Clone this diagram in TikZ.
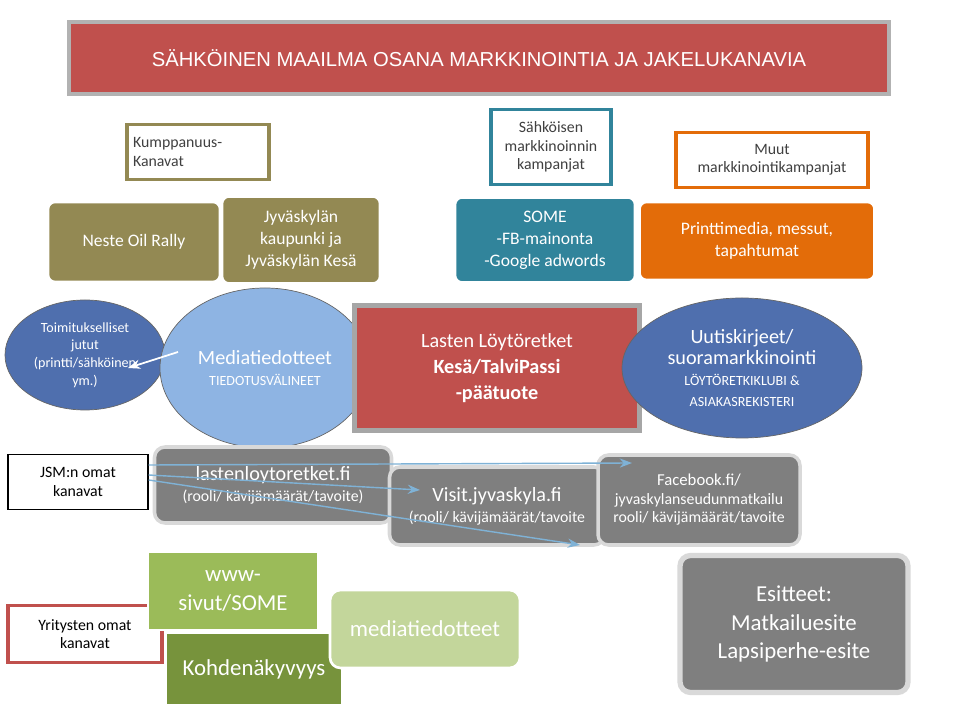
\documentclass[tikz,border=0pt]{standalone}
\usepackage{fontspec}
\setmainfont{Carlito}
\newfontfamily\arialf{Liberation Sans}
\usetikzlibrary{shapes.geometric,arrows.meta}
\definecolor{banred}{HTML}{C0504D}
\definecolor{olivec}{HTML}{938953}
\definecolor{tealc}{HTML}{31849B}
\definecolor{orangec}{HTML}{E36C09}
\definecolor{darkblue}{HTML}{4F6FAE}
\definecolor{lightblue}{HTML}{8EB4E3}
\definecolor{grayc}{HTML}{7F7F7F}
\definecolor{greenc}{HTML}{9BBB59}
\definecolor{dgreen}{HTML}{77933C}
\definecolor{lgreen}{HTML}{C3D69B}
\definecolor{arrowc}{HTML}{7FB2D6}
\tikzset{
  headbox/.style={draw=#1, line width=2pt, fill=white, text=black!75, align=center, font=\fontsize{9}{10.5}\selectfont},
  fillbox/.style={fill=#1, rounded corners=4pt, draw=white, line width=1.5pt, text=white, align=center, font=\fontsize{10}{12.5}\selectfont},
  graybox/.style={fill=grayc, rounded corners=6pt, draw=black!15, line width=2pt, text=white, align=center},
  blob/.style={ellipse, draw=black!60, fill=#1, text=white, align=center},
  chan/.style={-{Stealth[length=7pt]}, arrowc, line width=0.8pt}
}
\begin{document}
\begin{tikzpicture}[x=0.02cm, y=-0.02cm]
\useasboundingbox (0,0) rectangle (960,715);
% title
\node[fill=banred, draw=black!30, line width=2pt, text=white, minimum width=820*0.02cm, minimum height=72*0.02cm, font=\arialf\fontsize{11.5}{14}\selectfont] (title) at (479,58) {SÄHKÖINEN MAAILMA OSANA MARKKINOINTIA JA JAKELUKANAVIA};
% campaign heads
\node[headbox=olivec, minimum width=138*0.02cm, minimum height=55*0.02cm, align=left] (kump) at (198,152) {Kumppanuus-\\Kanavat\hspace*{5em}};
\node[headbox=tealc, minimum width=120*0.02cm, minimum height=75*0.02cm] (sahk) at (551,147) {Sähköisen\\markkinoinnin\\kampanjat};
\node[headbox=orangec, minimum width=192*0.02cm, minimum height=55*0.02cm] (muut) at (772,160) {Muut\\markkinointikampanjat};
% campaign rows
\node[fillbox=olivec, minimum width=172*0.02cm, minimum height=80*0.02cm] (neste) at (134,242) {Neste Oil Rally};
\node[fillbox=olivec, minimum width=158*0.02cm, minimum height=87*0.02cm] (jkl) at (301,240) {Jyväskylän\\kaupunki ja\\Jyväskylän Kesä};
\node[fillbox=tealc, minimum width=180*0.02cm, minimum height=85*0.02cm] (some) at (545,240) {SOME\\-FB-mainonta\\-Google adwords};
\node[fillbox=orangec, minimum width=235*0.02cm, minimum height=78*0.02cm] (print) at (757,241) {Printtimedia, messut,\\tapahtumat};
% middle row
\node[blob=darkblue, minimum width=160*0.02cm, minimum height=110*0.02cm, inner sep=0pt, font=\fontsize{8}{10}\selectfont] (toim) at (85,355) {Toimitukselliset\\jutut\\(printti/sähköinen\\ym.)};
\node[blob=lightblue, minimum width=210*0.02cm, minimum height=160*0.02cm] (media) at (265,368) {{\fontsize{11.5}{14}\selectfont Mediatiedotteet}\\{\fontsize{8}{9.5}\selectfont TIEDOTUSVÄLINEET}};
\node[fill=banred, draw=black!35, line width=3pt, text=white, align=center, minimum width=285*0.02cm, minimum height=125*0.02cm, font=\fontsize{11.5}{15}\selectfont] (lasten) at (497,368) {Lasten Löytöretket\\\textbf{Kesä/TalviPassi}\\\textbf{-päätuote}};
\node[blob=darkblue, minimum width=240*0.02cm, minimum height=140*0.02cm, inner sep=0pt] (uutis) at (742,368) {{\fontsize{11.5}{13.5}\selectfont Uutiskirjeet/}\\{\fontsize{11.5}{13.5}\selectfont suoramarkkinointi}\\{\fontsize{8}{10}\selectfont LÖYTÖRETKIKLUBI \&}\\{\fontsize{8}{10}\selectfont ASIAKASREKISTERI}};
\coordinate (mediaout) at (178,352);
\coordinate (toimin) at (128,368);
\draw[-{Stealth[length=7pt]}, white, line width=1pt] (mediaout) -- (toimin);
% own channels
\node[draw=black, line width=0.8pt, fill=white, align=center, minimum width=140*0.02cm, minimum height=55*0.02cm, font=\fontsize{9}{10.5}\selectfont] (jsm) at (78,482) {JSM:n omat\\kanavat};
\node[graybox, minimum width=237*0.02cm, minimum height=76*0.02cm] (lasfi) at (273,485) {{\fontsize{11.5}{13.5}\selectfont lastenloytoretket.fi}\\{\fontsize{9}{10.5}\selectfont (rooli/ kävijämäärät/tavoite)}};
\node[graybox, minimum width=215*0.02cm, minimum height=78*0.02cm] (visit) at (497,506) {{\fontsize{11.5}{13.5}\selectfont Visit.jyvaskyla.fi}\\{\fontsize{9}{10.5}\selectfont (rooli/ kävijämäärät/tavoite}};
\node[graybox, minimum width=202*0.02cm, minimum height=90*0.02cm, font=\fontsize{9}{10.5}\selectfont] (fb) at (699,500) {{\fontsize{9.5}{11.5}\selectfont Facebook.fi/}\\jyvaskylanseudunmatkailu\\rooli/ kävijämäärät/tavoite};
\coordinate (fbend) at (632,463);
\coordinate (visend) at (420,490);
\coordinate (siteend) at (580,545);
\draw[chan] (jsm.east) ++(0,-17) -- (fbend);
\draw[chan] (jsm.east) ++(0,-7) -- (visend);
\draw[chan] (jsm.east) ++(0,-2) -- (siteend);
% company channels
\node[draw=banred, line width=2pt, fill=white, align=center, minimum width=154*0.02cm, minimum height=57*0.02cm, font=\fontsize{9}{10.5}\selectfont] (yrit) at (85,634) {Yritysten omat\\kanavat};
\node[fill=greenc, draw=white, line width=1.5pt, text=white, align=center, minimum width=170*0.02cm, minimum height=78*0.02cm, font=\fontsize{13}{16}\selectfont] (www) at (233,591) {www-\\sivut/SOME};
\node[fill=dgreen, draw=white, line width=1.5pt, text=white, minimum width=177*0.02cm, minimum height=73*0.02cm, font=\fontsize{13}{16}\selectfont] (kohde) at (254,669) {Kohdenäkyvyys};
\node[fill=lgreen, draw=white, line width=1.5pt, rounded corners=6pt, text=white, minimum width=190*0.02cm, minimum height=78*0.02cm, font=\fontsize{13}{16}\selectfont] (mtied) at (425,629) {mediatiedotteet};
\node[fill=grayc, draw=black!15, line width=3pt, rounded corners=6pt, text=white, align=center, minimum width=228*0.02cm, minimum height=137*0.02cm, font=\fontsize{13}{16}\selectfont] (esit) at (794,624) {Esitteet:\\Matkailuesite\\Lapsiperhe-esite};
\end{tikzpicture}
\end{document}
